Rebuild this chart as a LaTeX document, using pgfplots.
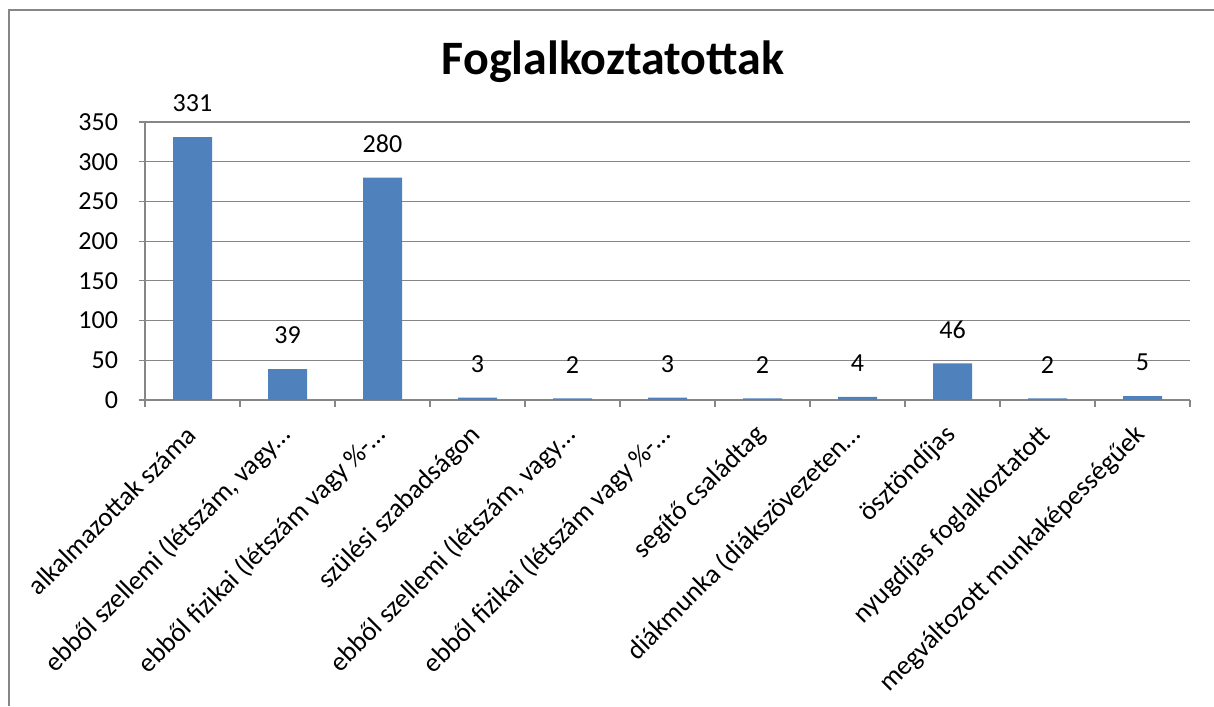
\documentclass[border=0pt]{standalone}
\usepackage{pgfplots}
\pgfplotsset{compat=1.18}
\usepackage{fontspec}
\setmainfont{Carlito}
\definecolor{barblue}{HTML}{4F81BD}
\definecolor{gridgray}{HTML}{868686}
\begin{document}
\begin{tikzpicture}
\path[use as bounding box] (0,0) rectangle (607pt,353pt);
\draw[gridgray, line width=1pt] (4.25pt,0) -- (4.25pt,348pt) -- (607pt,348pt);
\node[font=\fontsize{24}{28}\selectfont\bfseries] at (306.5pt,322pt) {Foglalkoztatottak};
\begin{axis}[
  at={(72.5pt,153pt)}, anchor=south west,
  scale only axis, width=522.5pt, height=139pt,
  xmin=-0.5, xmax=10.5, ymin=0, ymax=350,
  ytick={0,50,...,350},
  xtick={0,...,10},
  minor xtick={-0.5,0.5,...,10.5},
  xticklabels={{alkalmazottak száma},{ebből szellemi (létszám, vagy…},{ebből fizikai (létszám vagy \%-…},{szülési szabadságon},{ebből szellemi (létszám, vagy…},{ebből fizikai (létszám vagy \%-…},{segítő családtag},{diákmunka (diákszövezeten…},{ösztöndíjas},{nyugdíjas foglalkoztatott},{megváltozott munkaképességűek}},
  xticklabel style={xshift=2pt, yshift=-10pt, rotate=45, anchor=east, font=\fontsize{13.5}{15}\selectfont},
  yticklabel={\pgfmathprintnumber{\tick}\hspace*{7pt}},
  yticklabel style={anchor=east, font=\fontsize{13}{15}\selectfont},
  /pgf/number format/assume math mode=true,
  axis lines=left, axis line style={-, gridgray, line width=0.6pt},
  tick align=outside, major tick length=3pt, minor tick length=3.5pt,
  xtick style={draw=none},
  minor x tick style={draw=gridgray, line width=0.6pt},
  ytick style={draw=gridgray, line width=0.6pt},
  ymajorgrids, grid style={gridgray, line width=0.6pt},
  ybar, bar width=19.5pt,
  nodes near coords,
  nodes near coords style={font=\fontsize{13}{15}\selectfont, anchor=south, yshift=9pt, text=black},
  clip=false,
]
\addplot[fill=barblue, draw=none] coordinates {
(0,331) (1,39) (2,280) (3,3) (4,2) (5,3) (6,2) (7,4) (8,46) (9,2) (10,5)};
\end{axis}
\end{tikzpicture}
\end{document}
